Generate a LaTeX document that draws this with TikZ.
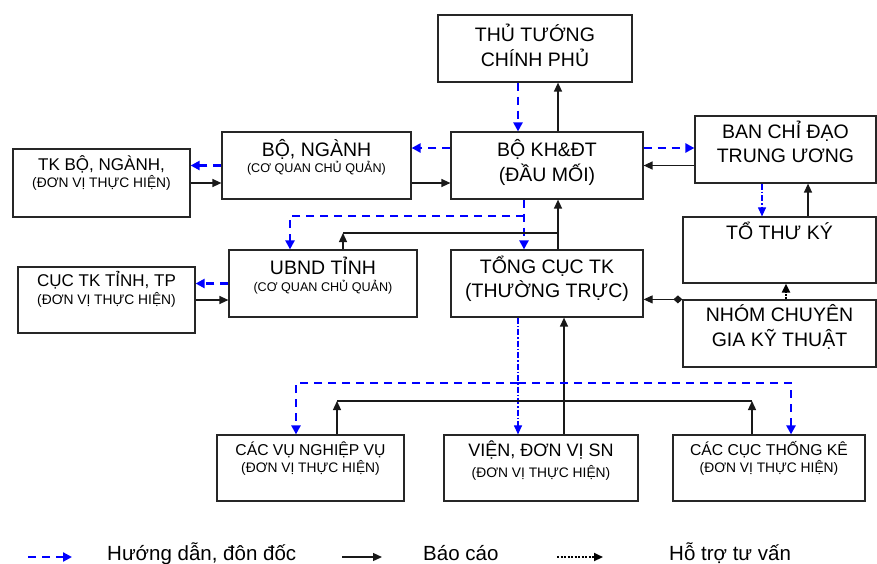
\documentclass[tikz,border=0pt]{standalone}
\usepackage{fontspec}
\setmainfont{Liberation Sans}
\usepackage{tikz}
\usetikzlibrary{arrows.meta}

\newcommand{\txtbig}{\fontsize{19.5}{24.5}\selectfont}
\newcommand{\txtmid}{\fontsize{17}{18}\selectfont}
\newcommand{\txtlow}{\fontsize{15.7}{17}\selectfont}
\newcommand{\txtsub}{\fontsize{13.8}{17.5}\selectfont}
\newcommand{\txtsubq}{\fontsize{12.6}{16.7}\selectfont}

\begin{document}
\begin{tikzpicture}[x=1pt, y=-1pt,
  box/.style={draw=black!85, line width=1.2pt, rectangle, inner sep=0pt},
  boxtext/.style={align=center, inner sep=0pt, anchor=base, text=black},
  wire/.style={draw=black!90, line width=1.3pt},
  report/.style={wire, -{Triangle[length=9pt,width=8pt]}},
  guide/.style={draw=blue, line width=2.6pt, dash pattern=on 8pt off 6pt, -{Triangle[length=9pt,width=9pt]}},
  guidethin/.style={draw=blue, line width=1.1pt, dash pattern=on 6pt off 2pt on 1.5pt off 2pt, -{Triangle[length=9pt,width=8pt]}},
  support/.style={draw=black, line width=2pt, dash pattern=on 2pt off 1.5pt, -{Triangle[length=9pt,width=8pt]}},
  legend/.style={anchor=base west, inner sep=0pt, font=\fontsize{20.5}{24}\selectfont}]
\useasboundingbox (0,0) rectangle (877,563);

% boxes (text nodes sit on the baseline of their last line)
\node[box, minimum width=194pt, minimum height=67pt] (thutuong) at (535,48.5) {};
\node[boxtext, font=\txtbig] (thutuong-t) at ([yshift=-52pt]thutuong.north) {THỦ TƯỚNG\\CHÍNH PHỦ};

\node[box, minimum width=192pt, minimum height=67pt] (bokhdt) at (547,165.5) {};
\node[boxtext, font=\txtbig] (bokhdt-t) at ([yshift=-49.7pt]bokhdt.north) {BỘ KH\&ĐT\\(ĐẦU MỐI)};

\node[box, minimum width=181pt, minimum height=67pt] (banchidao) at (785.5,149.5) {};
\node[boxtext, font=\txtbig] (banchidao-t) at ([yshift=-47.3pt]banchidao.north) {BAN CHỈ ĐẠO\\TRUNG ƯƠNG};

\node[box, minimum width=193pt, minimum height=66pt] (tothuky) at (779.5,250) {};
\node[boxtext, font=\txtbig] (tothuky-t) at ([yshift=-23pt]tothuky.north) {TỔ THƯ KÝ};

\node[box, minimum width=193pt, minimum height=67pt] (nhom) at (779.5,333.5) {};
\node[boxtext, font=\txtbig] (nhom-t) at ([yshift=-47pt]nhom.north) {NHÓM CHUYÊN\\GIA KỸ THUẬT};

\node[box, minimum width=192pt, minimum height=67pt] (tongcuc) at (547,283.5) {};
\node[boxtext, font=\txtbig] (tongcuc-t) at ([yshift=-48.3pt]tongcuc.north) {TỔNG CỤC TK\\(THƯỜNG TRỰC)};

\node[box, minimum width=189pt, minimum height=67pt] (bonganh) at (316.5,165.5) {};
\node[boxtext, font=\txtsubq] (bonganh-t) at ([yshift=-41.4pt]bonganh.north) {{\txtbig BỘ, NGÀNH}\\(CƠ QUAN CHỦ QUẢN)};

\node[box, minimum width=177pt, minimum height=68pt] (tkbo) at (101.5,183) {};
\node[boxtext, font=\txtsub] (tkbo-t) at ([yshift=-39.3pt]tkbo.north) {{\txtmid TK BỘ, NGÀNH,}\\(ĐƠN VỊ THỰC HIỆN)};

\node[box, minimum width=188pt, minimum height=67pt] (ubnd) at (323,283.5) {};
\node[boxtext, font=\txtsubq] (ubnd-t) at ([yshift=-41.7pt]ubnd.north) {{\txtbig UBND TỈNH}\\(CƠ QUAN CHỦ QUẢN)};

\node[box, minimum width=177pt, minimum height=66pt] (cuctinh) at (106.5,300) {};
\node[boxtext, font=\txtsub] (cuctinh-t) at ([yshift=-38pt]cuctinh.north) {{\txtmid CỤC TK TỈNH, TP}\\(ĐƠN VỊ THỰC HIỆN)};

\node[box, minimum width=187pt, minimum height=66pt] (cacvu) at (310.5,468) {};
\node[boxtext, font=\txtsub] (cacvu-t) at ([yshift=-38.3pt]cacvu.north) {{\txtlow CÁC VỤ NGHIỆP VỤ}\\(ĐƠN VỊ THỰC HIỆN)};

\node[box, minimum width=194pt, minimum height=66pt] (vien) at (541,468) {};
\node[boxtext, font=\txtsub] (vien-t) at ([yshift=-43.3pt]vien.north) {{\fontsize{18}{18}\selectfont VIỆN, ĐƠN VỊ SN}\\[4pt](ĐƠN VỊ THỰC HIỆN)};

\node[box, minimum width=192pt, minimum height=66pt] (caccuc) at (769,468) {};
\node[boxtext, font=\txtsub] (caccuc-t) at ([yshift=-38.3pt]caccuc.north) {{\txtlow CÁC CỤC THỐNG KÊ}\\(ĐƠN VỊ THỰC HIỆN)};

% top part
\draw[guide] ([xshift=-17pt]thutuong.south) -- ([xshift=-17pt]thutuong.south |- bokhdt.north);
\draw[report] ([xshift=11pt]bokhdt.north) -- ([xshift=11pt]bokhdt.north |- thutuong.south);
\draw[guide] ([yshift=17.5pt]bokhdt.east) -- ([yshift=17.5pt]bokhdt.east -| banchidao.west);
\draw[report] (banchidao.west |- bokhdt.east) -- (bokhdt.east);
\draw[guide] ([yshift=17.5pt]bokhdt.west) -- ([yshift=17.5pt]bokhdt.west -| bonganh.east);
\draw[report] ([yshift=-17.5pt]bonganh.east) -- ([yshift=-17.5pt]bonganh.east -| bokhdt.west);
\draw[guide] (bonganh.west) -- (bonganh.west -| tkbo.east);
\draw[report] (tkbo.east) -- (tkbo.east -| bonganh.west);
\draw[guide] (ubnd.west) -- (ubnd.west -| cuctinh.east);
\draw[report] (cuctinh.east) -- (cuctinh.east -| ubnd.west);

% bo kh&dt - tong cuc - ubnd
\coordinate (split) at (524,216);
\coordinate (join) at (558,233);
\draw[guide] ([xshift=-23pt]bokhdt.south) -- ([xshift=-23pt]bokhdt.south |- tongcuc.north);
\draw[guide] (split) -| ([xshift=-33pt]ubnd.north);
\draw[report] ([xshift=20pt]ubnd.north) -- ([xshift=20pt]ubnd.north |- join);
\draw[wire] ([xshift=20pt]ubnd.north |- join) -- (join);
\draw[report] ([xshift=11pt]tongcuc.north) -- ([xshift=11pt]bokhdt.south);

% right column
\draw[guidethin] ([xshift=-23.5pt]banchidao.south) -- ([xshift=-23.5pt]banchidao.south |- tothuky.north);
\draw[report] ([xshift=28.5pt]tothuky.north) -- ([xshift=28.5pt]tothuky.north |- banchidao.south);
\draw[support] ([xshift=6.5pt]nhom.north) -- ([xshift=6.5pt]nhom.north |- tothuky.south);
\draw[report, line width=1pt, {Diamond[length=9pt,width=8pt]}-{Triangle[length=9pt,width=8pt]}] (nhom.north west) -- (nhom.north west -| tongcuc.east);

% bottom row
\coordinate (fork) at (518,383);
\coordinate (gather) at (564,401);
\draw[guidethin] ([xshift=-29pt]tongcuc.south) -- ([xshift=-29pt]tongcuc.south |- vien.north);
\draw[report] ([xshift=17pt]tongcuc.south |- vien.north) -- ([xshift=17pt]tongcuc.south);
\draw[guide] (fork) -| ([xshift=-14.5pt]cacvu.north);
\draw[guide] (fork) -| ([xshift=22pt]caccuc.north);
\draw[report] ([xshift=26.5pt]cacvu.north) -- ([xshift=26.5pt]cacvu.north |- gather);
\draw[report] ([xshift=-17pt]caccuc.north) -- ([xshift=-17pt]caccuc.north |- gather);
\draw[wire] ([xshift=26.5pt]cacvu.north |- gather) -- ([xshift=-17pt]caccuc.north |- gather);

% legend
\coordinate (lg1a) at (28,557);
\coordinate (lg1b) at (72,557);
\coordinate (lg2a) at (342,557);
\coordinate (lg2b) at (382,557);
\coordinate (lg3a) at (557,557);
\coordinate (lg3b) at (603,557);
\draw[guide] (lg1a) -- (lg1b);
\node[legend] (lg1) at (107,560) {Hướng dẫn, đôn đốc};
\draw[report] (lg2a) -- (lg2b);
\node[legend] (lg2) at (423,560) {Báo cáo};
\draw[support] (lg3a) -- (lg3b);
\node[legend] (lg3) at (669,560) {Hỗ trợ tư vấn};
\end{tikzpicture}
\end{document}
